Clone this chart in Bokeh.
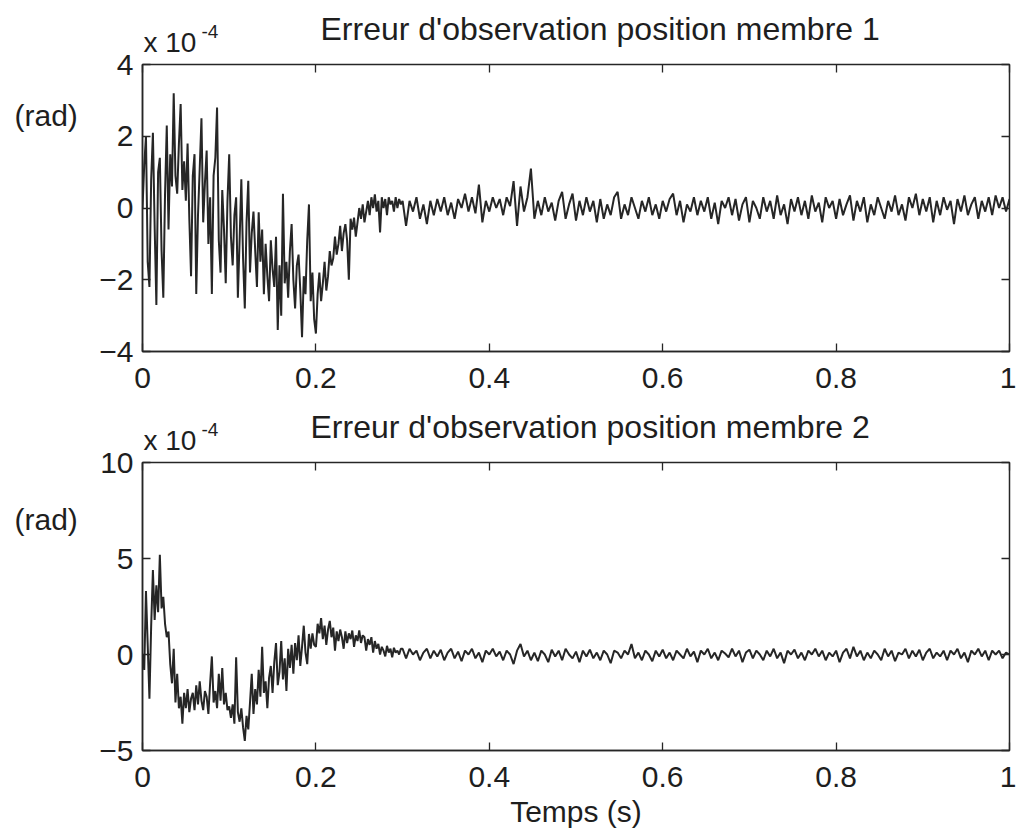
import numpy as np
from bokeh.plotting import figure
from bokeh.layouts import column, row
from bokeh.models import Range1d, LinearAxis, FixedTicker, CustomJSTickFormatter
from bokeh.core.properties import value
from bokeh.embed import file_html
from bokeh.resources import INLINE

# ---------------- data (values in units of 1e-4 rad) ----------------
# early part (0 .. 0.298 s) sampled every 2 ms, late part (0.300 .. 1.000 s) every 4 ms
dt_early = 0.002
dt_late = 0.004
t_split = 0.300

x_ticks = [0, 0.2, 0.4, 0.6, 0.8, 1]
x_tick_labels = {0: "0", 0.2: "0.2", 0.4: "0.4", 0.6: "0.6", 0.8: "0.8", 1: "1"}

title_1 = "Erreur d'observation position membre 1"
y_ticks_1 = [-4, -2, 0, 2, 4]
err_1_early = [
    0.0, 1.2, 2.0, -1.5, -2.2, 0.8, 2.1, -0.5, -2.7, 1.0, 1.4, -1.2, -2.5, 0.4, 2.3,
    -0.6, 1.5, 0.6, 3.2, 0.9, 0.4, 1.8, 2.9, 0.5, 1.3,
    0.2, 1.8, -0.3, -1.9, 0.9, 1.5, -2.4, -0.2, 1.1, 2.5, -0.4, 0.7, 1.6, -1.0, 0.3,
    -2.4, 0.9, 1.4, 2.8, -0.9, -1.8, 0.5, -0.6, -2.1, 0.2,
    1.5, -0.8, -1.6, -0.2, 0.3, -2.5, -0.9, 0.8, -1.4, -2.8, -0.4, 0.76, -1.8, -0.7, -0.1,
    -1.2, -2.2, -0.12, -1.5, -0.6, -2.4, -1.0, -1.9, -2.6, -0.9, -1.7, -2.2, -0.8, -3.4, -1.6,
    -3.0, 0.4, -2.1, -1.5, -2.5, -1.2, -0.45, -2.0, -2.8, -1.6, -1.3, -2.3, -3.6, -1.9, -2.4,
    -0.9, 0.1, -2.6, -1.8, -3.1,
    -3.5, -2.4, -1.8, -2.6, -2.1, -1.5, -2.3, -1.9, -1.2, -1.6, -1.4, -0.8, -1.3, -1.0, -0.5,
    -1.2, -0.7, -0.45, -0.9, -2.0, -0.3, -0.6, -0.27, -0.8, -0.4,
    0.0, -0.3, 0.1, -0.4, -0.1, 0.2, -0.2, 0.3, 0.0, 0.38, -0.1, 0.2, -0.68, 0.3, 0.0,
    0.25, -0.2, 0.3, 0.1, 0.2, -0.1, 0.3, 0.0, 0.25, 0.1,
]
err_1_late = [
    0.2,
    -0.5, 0.2, -0.1, 0.3, -0.3, 0.1, -0.45, 0.2, -0.2, 0.25,
    -0.1, 0.3, -0.2, 0.15, -0.3, 0.25, 0.0, 0.4, -0.1, 0.3,
    -0.15, 0.65, -0.4, 0.2, -0.1, 0.3, 0.0, 0.25, -0.2, 0.3,
    0.05, 0.75, -0.5, 0.6, -0.1, 0.3, 1.1, -0.3, 0.2, -0.2,
    0.3, -0.1, 0.15, -0.35, 0.2, 0.45, -0.3, 0.1, 0.4, -0.35,
    0.2, -0.2, 0.3, -0.1, 0.2, -0.4, 0.25, -0.3, 0.1, -0.2,
    0.3, 0.45, -0.3, 0.1, -0.2, 0.3, 0.0, -0.3, 0.2, -0.1,
    0.3, -0.2, 0.1, -0.3, 0.2, -0.1, 0.25, 0.4, -0.2, 0.2,
    -0.4, 0.1, -0.1, 0.3, -0.2, 0.2, -0.1, 0.3, -0.3, 0.15,
    -0.45, 0.2, 0.0, 0.3, -0.2, 0.25, -0.35, 0.1, 0.3, -0.4,
    0.2, 0.0, -0.3, 0.3, -0.1, 0.2, -0.3, 0.35, -0.2, 0.1,
    -0.45, 0.25, -0.1, 0.3, -0.2, 0.2, -0.3, 0.35, -0.1, 0.15,
    -0.4, 0.3, 0.0, 0.2, -0.3, 0.25, -0.2, 0.1, 0.35, -0.35,
    0.2, -0.1, 0.3, -0.4, 0.1, -0.2, 0.3, 0.0, -0.3, 0.2,
    -0.1, 0.35, -0.2, 0.1, -0.35, 0.3, 0.0, 0.4, -0.2, 0.25,
    -0.1, 0.3, -0.4, 0.2, -0.2, 0.3, -0.05, 0.2, -0.45, 0.25,
    -0.1, 0.35, -0.2, 0.1, 0.3, -0.3, 0.2, -0.1, 0.3, -0.2,
    0.35, 0.0, 0.3, -0.1, 0.25,
]

title_2 = "Erreur d'observation position membre 2"
y_ticks_2 = [-5, 0, 5, 10]
err_2_early = [
    0.0, -0.8, 3.3, 0.5, -2.3, 1.5, 4.4, 1.8, 3.6, 2.2, 5.2, 2.4, 3.0, 1.6, 0.9,
    1.2, -0.5, -1.5, 0.3, -2.5, -1.0, -2.8, -2.2, -3.6, -2.0,
    -2.8, -1.8, -3.0, -2.3, -2.0, -2.9, -1.6, -2.6, -1.4, -2.4, -2.9, -1.9, -2.2, -3.1, -1.5,
    -0.1, -2.5, -1.9, -2.8, -1.0, -2.4, -0.7, -2.6, -2.0, -2.9,
    -2.7, -3.3, -2.6, -3.6, -0.15, -3.0, -3.5, -2.8, -3.8, -4.5, -3.2,
    -3.9, -2.5, -1.0, -3.1, -1.8, -2.6, -0.8, -2.2, 0.4, -2.0, -1.4, -2.8, -1.2, -0.6,
    -2.0, -0.4, 0.6, -1.6, -0.9, 0.7, -1.3, -0.2, -1.9, 0.3, -0.7, 0.5,
    -1.0, 0.6, -0.3, 1.0, -0.6, 0.4, 1.5, 0.1, -0.5, 1.07, 0.3, 1.1, 0.5,
    0.4, 1.6, 1.1, 1.9, 0.8, 1.5, 0.5, 1.3, 1.75, 0.9, 1.4, 0.2, 1.2, 0.7, 1.3,
    0.9, 0.3, 1.2, 0.6, 1.1, 0.8, 1.25, 0.4, 1.0, 0.7,
    1.25, 0.6, 1.0, 0.9, 0.2, 0.8, 0.5, 0.9, 0.1, 0.7, 0.3, 0.55, 0.0, 0.4, 0.2,
    -0.1, 0.45, 0.1, 0.3, -0.15, 0.35, 0.1, 0.2, 0.0, 0.3,
]
err_2_late = [
    0.3,
    -0.2, 0.3, 0.0, 0.2, -0.3, 0.1, 0.3, -0.2, 0.2, -0.1,
    0.25, -0.3, 0.1, 0.3, -0.2, 0.15, -0.35, 0.2, 0.0, 0.3,
    -0.2, 0.1, -0.4, 0.2, 0.0, 0.3, -0.1, 0.15, -0.3, 0.2,
    0.0, -0.5, 0.2, 0.55, -0.1, 0.2, -0.3, 0.1, -0.35, 0.2,
    0.0, -0.4, 0.25, -0.1, 0.2, -0.3, 0.3, 0.0, -0.2, 0.15,
    -0.4, 0.2, -0.1, 0.25, -0.2, 0.1, -0.3, 0.2, 0.0, -0.45,
    0.2, 0.1, -0.2, 0.2, 0.0, 0.55, -0.2, 0.1, -0.3, 0.2,
    0.0, -0.35, 0.2, -0.1, 0.25, -0.2, 0.1, -0.3, 0.2, 0.0,
    -0.2, 0.3, -0.1, 0.15, -0.4, 0.2, 0.0, 0.3, -0.2, 0.1,
    -0.3, 0.2, 0.05, -0.15, 0.3, -0.1, 0.2, -0.4, 0.1, 0.25,
    -0.2, 0.2, 0.0, -0.3, 0.2, -0.1, 0.3, -0.2, 0.1, -0.45,
    0.2, 0.0, 0.25, -0.2, 0.1, -0.3, 0.2, 0.0, 0.3, -0.1,
    0.2, -0.3, 0.1, -0.1, 0.2, -0.4, 0.1, 0.3, -0.2, 0.4,
    -0.1, 0.2, -0.3, 0.1, -0.2, 0.2, 0.0, -0.3, 0.3, -0.1,
    0.2, -0.35, 0.1, 0.0, 0.3, -0.2, 0.2, -0.1, 0.25, -0.3,
    0.1, 0.3, -0.2, 0.1, -0.1, 0.2, -0.3, 0.2, 0.0, 0.3,
    -0.2, 0.1, -0.4, 0.2, 0.0, 0.3, -0.1, 0.2, -0.3, 0.2,
    0.0, 0.2, -0.2, 0.1, 0.0,
]

x_label = "Temps (s)"
y_unit = "(rad)"
scale_base = "x 10"
scale_exp = "-4"

# ---------------- styling ----------------
FONT = "Liberation Sans"
INK = "#262626"
TXT = "#1e1e1e"
W = 1016
LEFT_STRIP = 90        # width of the strip holding "(rad)"
MAIN_LEFT = 52         # left border of each plot (tick labels)
FRAME_W = 867
RIGHT = 7
TOP_B = 30             # top border of each plot (room for the top tick label)
OVERLAP = 26           # plots slide up under the heading strips by this much
MID = 0.35             # baseline offset below the 'middle' anchor, in em


def times(early, late):
    t_e = np.arange(len(early)) * dt_early
    t_l = t_split + np.arange(len(late)) * dt_late
    return np.concatenate([t_e, t_l]), np.array(list(early) + list(late))


def text_panel(w, h, items):
    """A borderless, transparent figure whose frame is the whole panel.
    items = (x_left, y_baseline_from_top, text, size_px)."""
    p = figure(width=w, height=h, x_range=Range1d(0, w), y_range=Range1d(h, 0),
               output_backend="svg", toolbar_location=None,
               x_axis_location=None, y_axis_location=None,
               min_border=0, min_border_left=0, min_border_right=0,
               min_border_top=0, min_border_bottom=0,
               outline_line_color=None, background_fill_color=None,
               border_fill_color=None)
    p.xgrid.visible = False
    p.ygrid.visible = False
    for (x, y, txt, size) in items:
        p.text(x=[x], y=[y - MID * size], text=[txt], text_font=value(FONT),
               text_font_size=f"{size}px", text_color=TXT,
               text_align="left", text_baseline="middle")
    return p


def plot_panel(early, late, ylo, yhi, yticks, frame_h, bottom_b, xlabel=None):
    p = figure(frame_width=FRAME_W, frame_height=frame_h,
               x_range=Range1d(0, 1), y_range=Range1d(ylo, yhi),
               output_backend="svg", toolbar_location=None,
               min_border_left=MAIN_LEFT, min_border_right=RIGHT,
               min_border_top=TOP_B, min_border_bottom=bottom_b,
               background_fill_color="white", border_fill_color=None,
               outline_line_color=INK, outline_line_width=1.5)
    p.xgrid.visible = False
    p.ygrid.visible = False

    t, v = times(early, late)
    p.line(t, v, line_color=INK, line_width=2.0)

    for ax in (p.xaxis[0], p.yaxis[0]):
        ax.axis_line_color = INK
        ax.axis_line_width = 1.5
        ax.major_tick_line_color = INK
        ax.major_tick_line_width = 1.3
        ax.major_tick_in = 8
        ax.major_tick_out = 0
        ax.minor_tick_line_color = None
        ax.major_label_text_font = FONT
        ax.major_label_text_font_size = "30px"
        ax.major_label_text_color = TXT
    p.xaxis[0].major_label_standoff = 16
    p.yaxis[0].major_label_standoff = 9
    p.xaxis[0].ticker = FixedTicker(ticks=x_ticks)
    p.xaxis[0].major_label_overrides = x_tick_labels
    p.yaxis[0].ticker = FixedTicker(ticks=yticks)
    if xlabel:
        p.xaxis[0].axis_label = xlabel
        p.xaxis[0].axis_label_text_font = FONT
        p.xaxis[0].axis_label_text_font_size = "30px"
        p.xaxis[0].axis_label_text_font_style = "normal"
        p.xaxis[0].axis_label_text_color = TXT
        p.xaxis[0].axis_label_standoff = 5

    for side in ("right", "above"):
        ax = LinearAxis(ticker=FixedTicker(ticks=yticks if side == "right" else x_ticks),
                        formatter=CustomJSTickFormatter(code="return ''"))
        ax.axis_line_color = None
        ax.major_tick_line_color = INK
        ax.major_tick_line_width = 1.3
        ax.major_tick_in = 8
        ax.major_tick_out = 0
        ax.minor_tick_line_color = None
        ax.major_label_text_font_size = "1px"
        ax.major_label_standoff = 0
        p.add_layout(ax, side)
    return p


# --- top subplot: frame from y=64 to y=351 ---
head_1 = text_panel(W, 60, [
    (320, 40, title_1, 32),
    (143, 52, scale_base, 28),
    (201, 38, scale_exp, 19),
])
plot_1 = plot_panel(err_1_early, err_1_late, -4, 4, y_ticks_1, 287, 52)
row_1_top = 60 - OVERLAP
side_1 = text_panel(LEFT_STRIP, TOP_B + 287 + 52,
                    [(14, 100 - row_1_top + MID * 30, y_unit, 30)])
row_1 = row(side_1, plot_1, spacing=0, margin=(-OVERLAP, 0, 0, 0))

# --- bottom subplot: frame from y=462 to y=750 ---
head_2_top = row_1_top + TOP_B + 287 + 52
head_2 = text_panel(W, 55, [
    (310, 438 - head_2_top, title_2, 32),
    (143, 450 - head_2_top, scale_base, 28),
    (201, 436 - head_2_top, scale_exp, 19),
])
plot_2 = plot_panel(err_2_early, err_2_late, -5, 10, y_ticks_2, 288, 86, xlabel=x_label)
row_2_top = head_2_top + 55 - OVERLAP
side_2 = text_panel(LEFT_STRIP, TOP_B + 288 + 86,
                    [(14, 512 - row_2_top + MID * 30, y_unit, 30)])
row_2 = row(side_2, plot_2, spacing=0, margin=(-OVERLAP, 0, 0, 0))

layout = column(head_1, row_1, head_2, row_2, spacing=0)
open("out.html", "w").write(file_html(layout, INLINE))
